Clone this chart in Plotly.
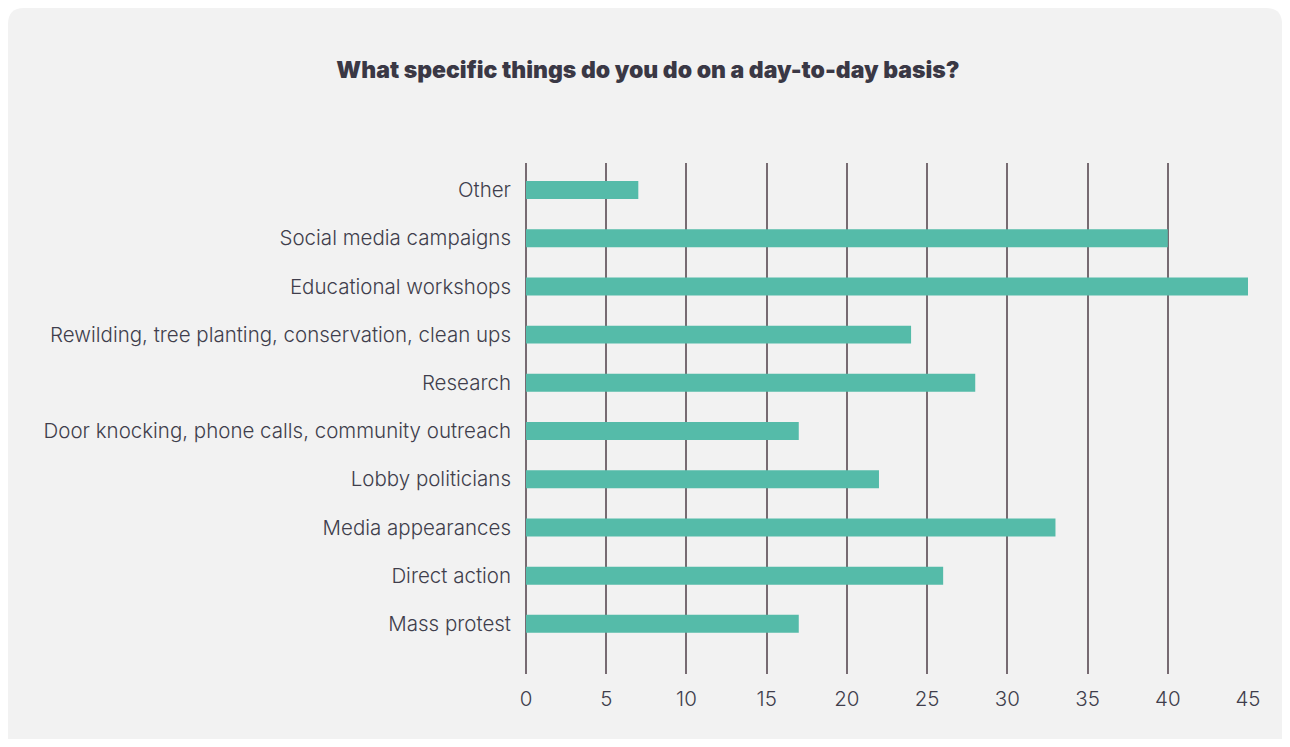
import plotly.graph_objects as go

categories = [
    "Other",
    "Social media campaigns",
    "Educational workshops",
    "Rewilding, tree planting, conservation, clean ups",
    "Research",
    "Door knocking, phone calls, community outreach",
    "Lobby politicians",
    "Media appearances",
    "Direct action",
    "Mass protest",
]
values = [7, 40, 45, 24, 28, 17, 22, 33, 26, 17]
x_ticks = [0, 5, 10, 15, 20, 25, 30, 35, 40, 45]

# page has an 8px body margin, so the figure is drawn 8px in from the window edge
W, H = 1274, 731
L, R, T, B = 518, 34, 155, 65
pw, ph = W - L - R, H - T - B

def px_x(p):
    return (p - L) / pw

def px_y(p):
    return (H - B - p) / ph

# card background (rounded rectangle) in paper coords
x0, x1 = px_x(0), px_x(W)
y0, y1 = px_y(0), px_y(H + 30)
rx, ry = 16 / pw, 16 / ph
card_path = (
    f"M {x0+rx},{y0} L {x1-rx},{y0} Q {x1},{y0} {x1},{y0-ry} "
    f"L {x1},{y1+ry} Q {x1},{y1} {x1-rx},{y1} "
    f"L {x0+rx},{y1} Q {x0},{y1} {x0},{y1+ry} "
    f"L {x0},{y0-ry} Q {x0},{y0} {x0+rx},{y0} Z"
)

text_color = "#403e4c"
grid_color = "#776b72"
label_font = dict(size=20.5, color=text_color, family="Inter, Roboto, sans-serif", weight=300)

fig = go.Figure(
    go.Bar(
        x=values,
        y=categories,
        orientation="h",
        marker=dict(color="#55bba9", line=dict(width=0)),
        width=0.373,
        hoverinfo="x+y",
    )
)

fig.update_layout(
    width=W,
    height=H,
    margin=dict(l=L, r=R, t=T, b=B),
    paper_bgcolor="#ffffff",
    plot_bgcolor="rgba(0,0,0,0)",
    showlegend=False,
    font=dict(family="Inter, Roboto, sans-serif", color=text_color, size=18),
    title=dict(
        text="What specific things do you do on a day-to-day basis?",
        x=640 / W,
        xanchor="center",
        xref="container",
        y=1 - 62 / H,
        yanchor="middle",
        yref="container",
        font=dict(family="Inter, Roboto, sans-serif", size=23, color="#3a3845", weight=900),
    ),
    shapes=[
        dict(
            type="path",
            path=card_path,
            xref="paper",
            yref="paper",
            fillcolor="#f2f2f2",
            line=dict(width=0),
            layer="below",
        )
    ],
    xaxis=dict(
        range=[0, 45],
        tickmode="array",
        tickvals=x_ticks,
        ticktext=[str(v) for v in x_ticks],
        showgrid=True,
        gridcolor=grid_color,
        gridwidth=1.5,
        zeroline=True,
        zerolinecolor=grid_color,
        zerolinewidth=1.5,
        showline=False,
        ticks="",
        ticklabelstandoff=10,
        tickfont=label_font,
        fixedrange=True,
    ),
    yaxis=dict(
        type="category",
        categoryorder="array",
        categoryarray=categories,
        range=[10.04, -0.56],
        showgrid=False,
        zeroline=False,
        showline=False,
        ticks="",
        ticklabelstandoff=14,
        tickfont=label_font,
        fixedrange=True,
    ),
)

fig.write_html("out.html")
